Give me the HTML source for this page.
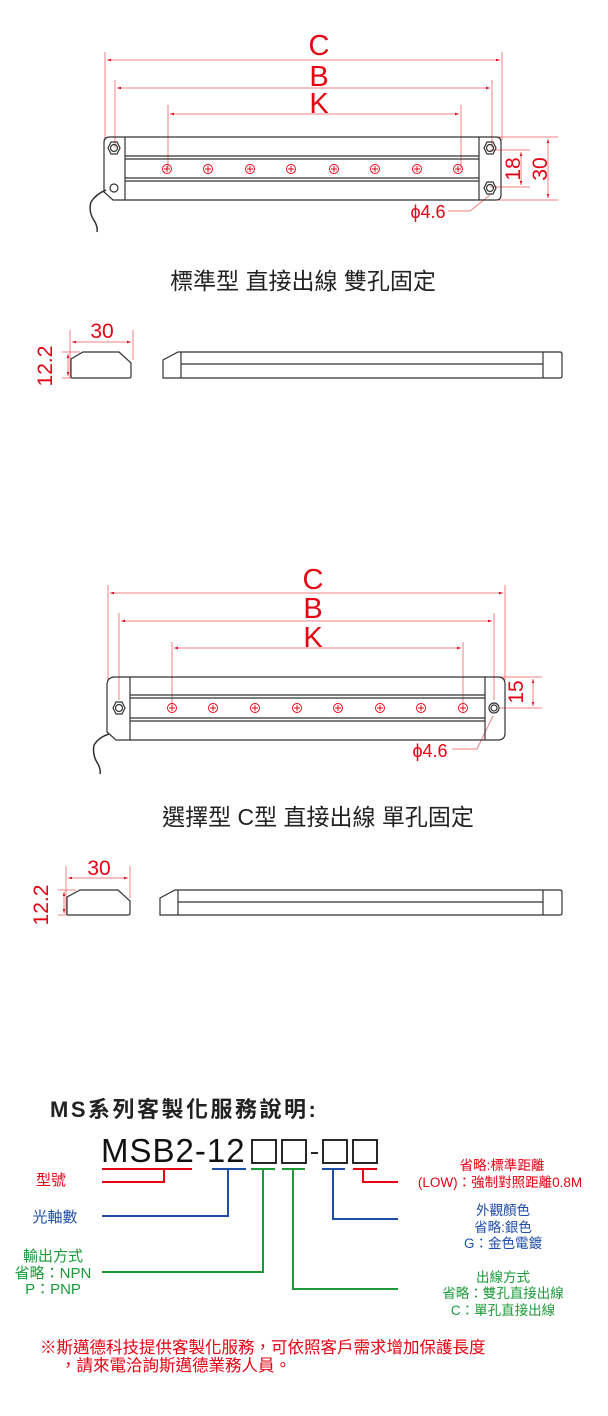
<!DOCTYPE html>
<html><head><meta charset="utf-8"><style>
html,body{margin:0;padding:0;background:#fff;}
svg{display:block;}
text{font-family:"Liberation Sans","Noto Sans CJK TC",sans-serif;}
</style></head><body>
<svg width="608" height="1416" viewBox="0 0 608 1416" xmlns="http://www.w3.org/2000/svg">
<defs>
<marker id="ar" viewBox="0 0 10 10" refX="10" refY="5" markerWidth="6" markerHeight="4" orient="auto-start-reverse"><path d="M0,2 L10,5 L0,8z" fill="#e60012"/></marker>
</defs>
<!-- ===== Drawing 1 ===== -->
<g stroke="#f08080" stroke-width="1" fill="none">
<line x1="105" y1="52" x2="105" y2="140"/><line x1="502" y1="52" x2="502" y2="140"/>
<line x1="115" y1="80" x2="115" y2="148"/><line x1="492" y1="80" x2="492" y2="148"/>
<line x1="168" y1="105" x2="168" y2="168"/><line x1="461" y1="105" x2="461" y2="168"/>
<line x1="107" y1="60" x2="500" y2="60" marker-start="url(#ar)" marker-end="url(#ar)"/>
<line x1="117" y1="88" x2="490" y2="88" marker-start="url(#ar)" marker-end="url(#ar)"/>
<line x1="170" y1="114" x2="459" y2="114" marker-start="url(#ar)" marker-end="url(#ar)"/>
<line x1="490" y1="137" x2="558" y2="137"/><line x1="490" y1="200" x2="558" y2="200"/>
<line x1="490" y1="150" x2="530" y2="150"/><line x1="490" y1="187" x2="530" y2="187"/>
<line x1="521" y1="152" x2="521" y2="185" marker-start="url(#ar)" marker-end="url(#ar)"/>
<line x1="548" y1="139" x2="548" y2="198" marker-start="url(#ar)" marker-end="url(#ar)"/>
<polyline points="448,211 470,211 490,195"/>
</g>
<g fill="#e60012" text-anchor="middle">
<text x="319" y="55" font-size="29">C</text>
<text x="319" y="86" font-size="29">B</text>
<text x="319" y="113" font-size="29">K</text>
<text x="428" y="218" font-size="18">ϕ4.6</text>
<text transform="translate(520,169) rotate(-90)" font-size="21" text-anchor="middle">18</text>
<text transform="translate(547,169) rotate(-90)" font-size="21" text-anchor="middle">30</text>
</g>
<g stroke="#333" stroke-width="1.2" fill="none">
<path d="M110,137 H496 Q501,137 501,142 V195 Q501,200 496,200 H113 L104,192 V142 Q104,137 110,137z"/>
<line x1="125" y1="137" x2="125" y2="200"/><line x1="479" y1="137" x2="479" y2="200"/>
<line x1="125" y1="156" x2="479" y2="156"/><line x1="125" y1="159" x2="479" y2="159"/>
<line x1="125" y1="178" x2="479" y2="178"/><line x1="125" y1="181" x2="479" y2="181"/>
<polygon points="108,148 111,142 117,142 120,148 117,154 111,154"/><circle cx="114" cy="148" r="3.5"/>
<circle cx="114" cy="188" r="4"/>
<polygon points="484,148 487,142 493,142 496,148 493,154 487,154"/><circle cx="490" cy="148" r="3.5"/>
<polygon points="484,188 487,182 493,182 496,188 493,194 487,194"/><circle cx="490" cy="188" r="3.5"/>
<path d="M106,190 Q96,194 91,202 Q88,212 95,222 Q98,228 97,232" stroke-width="1.5"/>
</g>
<g stroke="#e60012" stroke-width="0.9" fill="none">
<circle cx="167" cy="169" r="4.5"/><circle cx="208" cy="169" r="4.5"/><circle cx="250" cy="169" r="4.5"/><circle cx="291" cy="169" r="4.5"/><circle cx="334" cy="169" r="4.5"/><circle cx="375" cy="169" r="4.5"/><circle cx="417" cy="169" r="4.5"/><circle cx="458" cy="169" r="4.5"/>
<path d="M167,166v6M208,166v6M250,166v6M291,166v6M334,166v6M375,166v6M417,166v6M458,166v6M164,169h6M205,169h6M247,169h6M288,169h6M331,169h6M372,169h6M414,169h6M455,169h6"/>
</g>
<text x="303" y="289" font-size="23" text-anchor="middle" fill="#222">標準型 直接出線 雙孔固定</text>

<!-- side view 1 -->
<g stroke="#f08080" stroke-width="1" fill="none">
<line x1="70" y1="330" x2="70" y2="378"/><line x1="133" y1="330" x2="133" y2="360"/>
<line x1="72" y1="342" x2="131" y2="342" marker-start="url(#ar)" marker-end="url(#ar)"/>
<line x1="62" y1="352" x2="80" y2="352"/><line x1="62" y1="378" x2="72" y2="378"/>
<line x1="68" y1="354" x2="68" y2="376" marker-start="url(#ar)" marker-end="url(#ar)"/>
</g>
<text x="102" y="338" font-size="21" fill="#e60012" text-anchor="middle">30</text>
<text transform="translate(52,366) rotate(-90)" font-size="21" fill="#e60012" text-anchor="middle">12.2</text>
<g stroke="#333" stroke-width="1.2" fill="none">
<path d="M72,378 H129 Q131,378 131,376 V363 L119,352 H83 L71,359 V376 Q71,378 72,378z"/>
<path d="M164,378 H560 Q562,378 562,376 V354 Q562,352 560,352 H178 L163,360 V378z"/>
<line x1="181" y1="352" x2="181" y2="378"/><line x1="543" y1="352" x2="543" y2="378"/>
<line x1="181" y1="364" x2="543" y2="364"/>
</g>

<!-- ===== Drawing 2 ===== -->
<g stroke="#f08080" stroke-width="1" fill="none">
<line x1="108" y1="585" x2="108" y2="680"/><line x1="505" y1="585" x2="505" y2="680"/>
<line x1="119" y1="613" x2="119" y2="700"/><line x1="494" y1="613" x2="494" y2="700"/>
<line x1="172" y1="642" x2="172" y2="705"/><line x1="463" y1="642" x2="463" y2="705"/>
<line x1="110" y1="593" x2="503" y2="593" marker-start="url(#ar)" marker-end="url(#ar)"/>
<line x1="121" y1="621" x2="492" y2="621" marker-start="url(#ar)" marker-end="url(#ar)"/>
<line x1="174" y1="648" x2="461" y2="648" marker-start="url(#ar)" marker-end="url(#ar)"/>
<line x1="495" y1="677" x2="542" y2="677"/><line x1="500" y1="708" x2="542" y2="708"/>
<line x1="533" y1="679" x2="533" y2="706" marker-start="url(#ar)" marker-end="url(#ar)"/>
<polyline points="452,749 477,749 493,716"/>
</g>
<g fill="#e60012" text-anchor="middle">
<text x="313" y="589" font-size="29">C</text>
<text x="313" y="618" font-size="29">B</text>
<text x="313" y="647" font-size="29">K</text>
<text x="430" y="757" font-size="18">ϕ4.6</text>
<text transform="translate(523,692) rotate(-90)" font-size="21" text-anchor="middle">15</text>
</g>
<g stroke="#333" stroke-width="1.2" fill="none">
<path d="M115,677 H498 Q505,677 505,684 V733 Q505,740 498,740 H116 L107,732 V685 Q107,677 115,677z"/>
<line x1="130" y1="677" x2="130" y2="740"/><line x1="485" y1="677" x2="485" y2="740"/>
<line x1="130" y1="695" x2="485" y2="695"/><line x1="130" y1="698" x2="485" y2="698"/>
<line x1="130" y1="718" x2="485" y2="718"/><line x1="130" y1="721" x2="485" y2="721"/>
<polygon points="113,708 116,702 122,702 125,708 122,714 116,714"/><circle cx="119" cy="708" r="3.5"/>
<circle cx="494" cy="708" r="5"/><circle cx="494" cy="708" r="3"/>
<path d="M109,734 Q99,737 94,745 Q92,755 98,764 Q101,770 100,774" stroke-width="1.5"/>
</g>
<g stroke="#e60012" stroke-width="0.9" fill="none">
<circle cx="172" cy="708" r="4.5"/><circle cx="213" cy="708" r="4.5"/><circle cx="255" cy="708" r="4.5"/><circle cx="297" cy="708" r="4.5"/><circle cx="338" cy="708" r="4.5"/><circle cx="380" cy="708" r="4.5"/><circle cx="421" cy="708" r="4.5"/><circle cx="463" cy="708" r="4.5"/>
<path d="M172,705v6M213,705v6M255,705v6M297,705v6M338,705v6M380,705v6M421,705v6M463,705v6M169,708h6M210,708h6M252,708h6M294,708h6M335,708h6M377,708h6M418,708h6M460,708h6"/>
</g>
<text x="318" y="825" font-size="23" text-anchor="middle" fill="#222">選擇型 C型 直接出線 單孔固定</text>

<!-- side view 2 -->
<g stroke="#f08080" stroke-width="1" fill="none">
<line x1="66" y1="866" x2="66" y2="915"/><line x1="130" y1="866" x2="130" y2="898"/>
<line x1="68" y1="878" x2="128" y2="878" marker-start="url(#ar)" marker-end="url(#ar)"/>
<line x1="58" y1="890" x2="76" y2="890"/><line x1="58" y1="915" x2="68" y2="915"/>
<line x1="64" y1="892" x2="64" y2="913" marker-start="url(#ar)" marker-end="url(#ar)"/>
</g>
<text x="99" y="875" font-size="21" fill="#e60012" text-anchor="middle">30</text>
<text transform="translate(48,905) rotate(-90)" font-size="21" fill="#e60012" text-anchor="middle">12.2</text>
<g stroke="#333" stroke-width="1.2" fill="none">
<path d="M68,915 H128 Q130,915 130,913 V901 L118,890 H80 L67,897 V913 Q67,915 68,915z"/>
<path d="M161,915 H560 Q562,915 562,913 V892 Q562,890 560,890 H175 L160,898 V915z"/>
<line x1="178" y1="890" x2="178" y2="915"/><line x1="543" y1="890" x2="543" y2="915"/>
<line x1="178" y1="902" x2="543" y2="902"/>
</g>

<!-- ===== Bottom ===== -->
<text x="50" y="1117" font-size="22" font-weight="bold" fill="#222" letter-spacing="2.5">MS系列客製化服務說明:</text>
<text x="101" y="1162" font-size="33" fill="#111" font-family="Liberation Sans,sans-serif" letter-spacing="1">MSB2-12</text>
<g stroke="#111" stroke-width="1.8" fill="none">
<rect x="252" y="1140" width="24" height="23"/><rect x="282" y="1140" width="24" height="23"/>
<line x1="311" y1="1153" x2="318" y2="1153"/>
<rect x="323" y="1140" width="24" height="23"/><rect x="353" y="1140" width="24" height="23"/>
</g>
<g fill="none" stroke-width="2">
<path d="M102,1169 H192 M164,1169 V1182 H102" stroke="#e60012"/>
<path d="M212,1169 H246 M228,1169 V1216 H102" stroke="#1f4ea8"/>
<path d="M251,1169 H275 M263,1169 V1272 H102" stroke="#1a9a3a"/>
<path d="M282,1169 H305 M293,1169 V1289 H398" stroke="#1a9a3a"/>
<path d="M322,1169 H345 M333,1169 V1219 H398" stroke="#1f4ea8"/>
<path d="M353,1169 H377 M363,1169 V1182 H398" stroke="#e60012"/>
</g>
<g font-size="15" text-anchor="middle">
<text x="51" y="1185" fill="#e60012">型號</text>
<text x="55" y="1222" fill="#1f4ea8">光軸數</text>
<text x="53" y="1261" fill="#1a9a3a">輸出方式</text>
<text x="53" y="1278" fill="#1a9a3a">省略：NPN</text>
<text x="53" y="1294" fill="#1a9a3a">P：PNP</text>
</g>
<g font-size="13.5" text-anchor="middle">
<text x="502" y="1170" fill="#e60012">省略:標準距離</text>
<text x="500" y="1187" fill="#e60012">(LOW)：強制對照距離0.8M</text>
<text x="503" y="1215" fill="#1f4ea8">外觀顏色</text>
<text x="503" y="1232" fill="#1f4ea8">省略:銀色</text>
<text x="503" y="1248" fill="#1f4ea8">G：金色電鍍</text>
<text x="503" y="1282" fill="#1a9a3a">出線方式</text>
<text x="503" y="1298" fill="#1a9a3a">省略：雙孔直接出線</text>
<text x="503" y="1315" fill="#1a9a3a">C：單孔直接出線</text>
</g>
<text x="40" y="1353" font-size="16.5" fill="#e60012">※斯邁德科技提供客製化服務，可依照客戶需求增加保護長度</text>
<text x="60" y="1371" font-size="16.5" fill="#e60012">，請來電洽詢斯邁德業務人員。</text>
</svg>
</body></html>
